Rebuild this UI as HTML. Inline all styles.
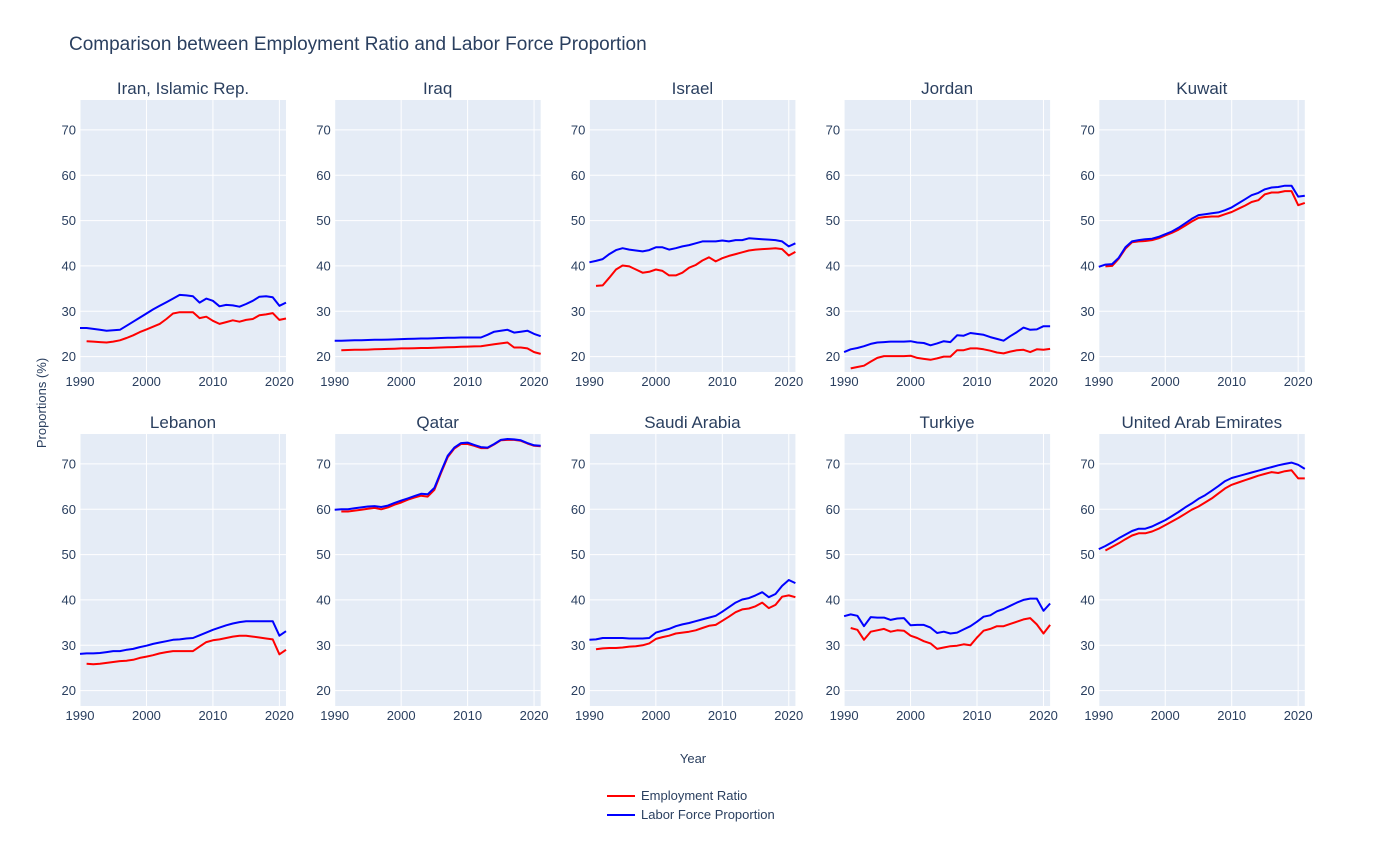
<!DOCTYPE html>
<html><head><meta charset="utf-8"><style>
body{margin:0;background:#fff;font-family:"Liberation Sans",sans-serif}
svg text{font-family:"Liberation Sans",sans-serif;fill:#2a3f5f}
</style></head><body>
<svg id="c" width="1385" height="840" viewBox="0 0 1385 840" xmlns="http://www.w3.org/2000/svg">
<text x="69" y="50" font-size="19">Comparison between Employment Ratio and Labor Force Proportion</text>
<text x="693" y="763" font-size="13" text-anchor="middle">Year</text>
<text x="46" y="403" font-size="13" text-anchor="middle" transform="rotate(-90 46 403)">Proportions (%)</text>
<g>
<g><line x1="607" y1="796" x2="635" y2="796" stroke="#ff0000" stroke-width="2"/><text x="641" y="800" font-size="13">Employment Ratio</text></g>
<g><line x1="607" y1="815" x2="635" y2="815" stroke="#0000ff" stroke-width="2"/><text x="641" y="819" font-size="13">Labor Force Proportion</text></g>
</g>
</svg>
<script>
const countries=["Iran, Islamic Rep.","Iraq","Israel","Jordan","Kuwait","Lebanon","Qatar","Saudi Arabia","Turkiye","United Arab Emirates"];
const years=[1990,1991,1992,1993,1994,1995,1996,1997,1998,1999,2000,2001,2002,2003,2004,2005,2006,2007,2008,2009,2010,2011,2012,2013,2014,2015,2016,2017,2018,2019,2020,2021];
const xTicks=[1990,2000,2010,2020];
const yTicks=[20,30,40,50,60,70];
const laborIran=[26.3,26.3,26.1,25.9,25.7,25.8,25.9,26.8,27.7,28.6,29.5,30.4,31.2,32.0,32.8,33.6,33.5,33.3,31.9,32.8,32.3,31.1,31.4,31.3,31.0,31.6,32.3,33.2,33.3,33.1,31.2,31.9];
const empIran=[null,23.4,23.3,23.2,23.1,23.3,23.6,24.1,24.7,25.4,26.0,26.6,27.2,28.3,29.5,29.8,29.8,29.8,28.5,28.8,27.9,27.2,27.6,28.0,27.7,28.1,28.3,29.1,29.3,29.6,28.1,28.4];
const laborIraq=[23.5,23.5,23.55,23.6,23.6,23.65,23.7,23.7,23.75,23.8,23.85,23.9,23.95,24.0,24.0,24.05,24.1,24.15,24.15,24.2,24.2,24.2,24.2,24.8,25.5,25.7,25.9,25.3,25.5,25.7,25.0,24.5];
const empIraq=[null,21.4,21.45,21.5,21.5,21.55,21.6,21.65,21.7,21.75,21.8,21.8,21.85,21.9,21.9,21.95,22.0,22.05,22.1,22.15,22.2,22.25,22.3,22.5,22.7,22.9,23.1,22.0,22.0,21.8,21.0,20.6];
const laborIsrael=[40.8,41.1,41.5,42.6,43.5,43.9,43.6,43.4,43.2,43.5,44.1,44.1,43.6,43.9,44.3,44.6,45.0,45.4,45.4,45.4,45.6,45.4,45.7,45.7,46.1,46.0,45.9,45.8,45.7,45.4,44.3,45.0];
const empIsrael=[null,35.6,35.7,37.4,39.2,40.1,39.9,39.2,38.5,38.7,39.2,38.9,37.9,37.9,38.5,39.6,40.2,41.2,41.9,41.0,41.7,42.2,42.6,43.0,43.4,43.6,43.7,43.8,43.9,43.7,42.3,43.1];
const laborJordan=[21.0,21.6,21.9,22.3,22.8,23.1,23.2,23.3,23.3,23.3,23.4,23.1,23.0,22.5,22.9,23.4,23.2,24.7,24.6,25.2,25.0,24.8,24.3,23.9,23.5,24.5,25.4,26.4,25.9,26.0,26.7,26.7];
const empJordan=[null,17.4,17.7,18.0,18.9,19.7,20.1,20.1,20.1,20.1,20.2,19.7,19.5,19.3,19.6,20.0,20.0,21.4,21.4,21.8,21.8,21.6,21.3,20.9,20.7,21.1,21.4,21.5,21.0,21.6,21.5,21.7];
const laborKuwait=[39.8,40.3,40.4,41.8,44.1,45.4,45.7,45.9,46.0,46.4,47.0,47.6,48.4,49.4,50.4,51.2,51.4,51.6,51.8,52.3,52.9,53.8,54.7,55.6,56.1,56.9,57.3,57.4,57.7,57.7,55.3,55.5];
const empKuwait=[null,39.9,40.0,41.6,43.8,45.2,45.4,45.5,45.7,46.1,46.7,47.3,48.0,48.9,49.8,50.6,50.8,50.9,50.9,51.4,51.9,52.6,53.3,54.1,54.5,55.8,56.2,56.2,56.5,56.5,53.4,53.9];
const laborLebanon=[28.1,28.2,28.2,28.3,28.5,28.7,28.7,29.0,29.2,29.6,29.9,30.3,30.6,30.9,31.2,31.3,31.5,31.6,32.2,32.8,33.4,33.9,34.4,34.8,35.1,35.3,35.3,35.3,35.3,35.3,32.1,33.1];
const empLebanon=[null,25.9,25.8,25.9,26.1,26.3,26.5,26.6,26.8,27.2,27.5,27.8,28.2,28.5,28.7,28.7,28.7,28.7,29.7,30.7,31.1,31.3,31.6,31.9,32.1,32.1,31.9,31.7,31.5,31.3,28.0,29.0];
const laborQatar=[59.9,60.0,60.0,60.2,60.4,60.6,60.7,60.5,60.8,61.4,61.9,62.4,62.9,63.4,63.3,64.7,68.3,71.8,73.6,74.6,74.7,74.2,73.7,73.6,74.4,75.3,75.5,75.4,75.2,74.6,74.1,74.0];
const empQatar=[null,59.5,59.5,59.7,59.9,60.1,60.3,60.0,60.4,61.0,61.5,62.1,62.6,63.0,62.8,64.3,68.0,71.5,73.4,74.4,74.4,74.0,73.5,73.5,74.3,75.2,75.3,75.3,75.1,74.5,74.0,73.9];
const laborSaudi=[31.2,31.3,31.6,31.6,31.6,31.6,31.5,31.5,31.5,31.6,32.8,33.2,33.6,34.2,34.6,34.9,35.3,35.7,36.1,36.5,37.4,38.4,39.4,40.1,40.4,41.0,41.7,40.6,41.3,43.1,44.4,43.7];
const empSaudi=[null,29.1,29.3,29.4,29.4,29.5,29.7,29.8,30.0,30.4,31.4,31.8,32.1,32.6,32.8,33.0,33.3,33.8,34.3,34.5,35.4,36.3,37.3,37.9,38.1,38.6,39.4,38.2,38.9,40.7,41.0,40.6];
const laborTurkiye=[36.4,36.8,36.5,34.2,36.2,36.1,36.1,35.6,35.9,36.0,34.4,34.5,34.5,33.9,32.7,33.0,32.6,32.8,33.5,34.2,35.2,36.3,36.6,37.5,38.0,38.7,39.4,40.0,40.3,40.3,37.6,39.2];
const empTurkiye=[null,33.8,33.4,31.2,33.0,33.3,33.6,33.0,33.3,33.2,32.1,31.6,30.9,30.4,29.2,29.5,29.8,29.9,30.2,30.0,31.7,33.2,33.6,34.2,34.2,34.7,35.2,35.7,36.0,34.6,32.6,34.5];
const laborUAE=[51.2,51.9,52.7,53.6,54.4,55.2,55.7,55.7,56.2,56.9,57.6,58.5,59.4,60.4,61.3,62.3,63.1,64.1,65.1,66.2,66.9,67.3,67.7,68.1,68.5,68.9,69.3,69.7,70.0,70.3,69.8,68.9];
const empUAE=[null,50.9,51.7,52.5,53.4,54.2,54.7,54.7,55.1,55.7,56.5,57.3,58.1,59.0,59.9,60.6,61.5,62.4,63.5,64.6,65.4,65.9,66.4,66.9,67.4,67.8,68.2,68.0,68.4,68.6,66.8,66.8];

const labor=[laborIran,laborIraq,laborIsrael,laborJordan,laborKuwait,laborLebanon,laborQatar,laborSaudi,laborTurkiye,laborUAE];
const emp=[empIran,empIraq,empIsrael,empJordan,empKuwait,empLebanon,empQatar,empSaudi,empTurkiye,empUAE];

const NS="http://www.w3.org/2000/svg";
const svg=document.getElementById('c');
const X0=1990,X1=2021,Y0=16.6,Y1=76.6,PW=206,PH=272;
const lefts=[80,334.7,589.4,844.1,1098.8], tops=[100,434];
function mk(t,a,p){const e=document.createElementNS(NS,t);for(const k in a)e.setAttribute(k,a[k]);(p||svg).appendChild(e);return e;}
countries.forEach((name,i)=>{
  const L=lefts[i%5],T=tops[Math.floor(i/5)];
  const xs=v=>L+(v-X0)/(X1-X0)*PW, ys=v=>T+PH-(v-Y0)/(Y1-Y0)*PH;
  const g=mk('g',{});
  
  
  const bg=mk('rect',{x:L,y:T,width:PW,height:PH,fill:'#e5ecf6'},g);
  
  
  xTicks.forEach(t=>{const x=xs(t);mk('line',{x1:x,x2:x,y1:T,y2:T+PH,stroke:'#fff','stroke-width':1},g);
    const tx=mk('text',{x:x,y:T+PH+14,'font-size':13,'text-anchor':'middle'},g);tx.textContent=t;
    
    });
  yTicks.forEach(t=>{const y=ys(t);mk('line',{x1:L,x2:L+PW,y1:y,y2:y,stroke:'#fff','stroke-width':1},g);
    const tx=mk('text',{x:L-4,y:y+4.5,'font-size':13,'text-anchor':'end'},g);tx.textContent=t;
    
    });
  const ti=mk('text',{x:L+PW/2,y:T-6,'font-size':17,'text-anchor':'middle'},g);ti.textContent=name;
  
  
  [[emp[i],'#ff0000','employment-line'],[labor[i],'#0000ff','labor-line']].forEach(([arr,col,nm])=>{
    let d='';arr.forEach((v,k)=>{if(v==null)return;d+=(d?'L':'M')+xs(years[k]).toFixed(1)+','+ys(v).toFixed(1);});
    const p=mk('path',{d:d,fill:'none',stroke:col,'stroke-width':2,'stroke-linejoin':'round'},g);
    
    
  });
});
</script>
</body></html>
